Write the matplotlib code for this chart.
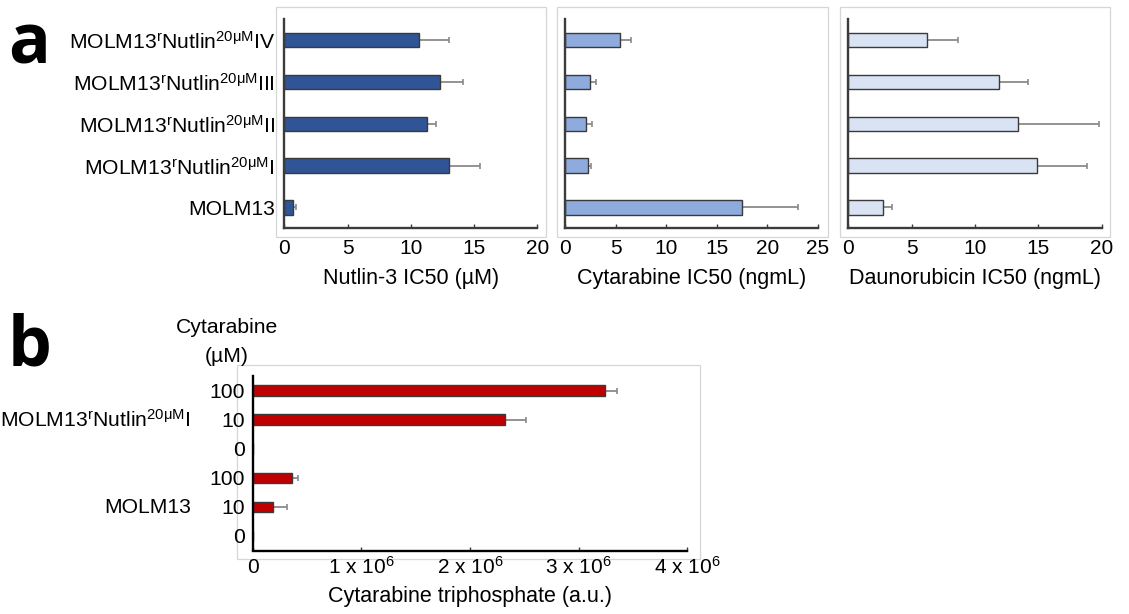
import matplotlib
matplotlib.use("Agg")
import matplotlib.pyplot as plt
from matplotlib.patches import Rectangle
from matplotlib.transforms import blended_transform_factory
import numpy as np

plt.rcParams['font.family'] = ['Liberation Sans', 'DejaVu Sans']
plt.rcParams['mathtext.fontset'] = 'custom'
plt.rcParams['mathtext.rm'] = 'Liberation Sans'
plt.rcParams['mathtext.it'] = 'Liberation Sans:italic'
plt.rcParams['mathtext.bf'] = 'Liberation Sans:bold'

# ---------------- data ----------------
# cell lines, listed bottom to top
cell_lines = [
    'MOLM13',
    r'MOLM13$^{\mathrm{r}}$Nutlin$^{\mathrm{20μM}}$I',
    r'MOLM13$^{\mathrm{r}}$Nutlin$^{\mathrm{20μM}}$II',
    r'MOLM13$^{\mathrm{r}}$Nutlin$^{\mathrm{20μM}}$III',
    r'MOLM13$^{\mathrm{r}}$Nutlin$^{\mathrm{20μM}}$IV',
]
nutlin_ic50 = [0.71, 12.99, 11.30, 12.31, 10.67]
nutlin_sd = [0.19, 2.48, 0.69, 1.84, 2.32]
cytarabine_ic50 = [17.52, 2.21, 2.08, 2.48, 5.45]
cytarabine_sd = [5.48, 0.36, 0.56, 0.59, 1.02]
daunorubicin_ic50 = [2.74, 14.87, 13.42, 11.92, 6.21]
daunorubicin_sd = [0.73, 3.97, 6.40, 2.29, 2.42]

# cytarabine triphosphate, rows bottom to top
ctp_conc = ['0', '10', '100', '0', '10', '100']
ctp_groups = ['MOLM13', r'MOLM13$^{\mathrm{r}}$Nutlin$^{\mathrm{20μM}}$I']
ctp_values = [0.0, 0.192e6, 0.362e6, 0.0, 2.32e6, 3.245e6]
ctp_sd = [0.0, 0.124e6, 0.061e6, 0.0, 0.20e6, 0.105e6]
ctp_ticks = [0, 1e6, 2e6, 3e6, 4e6]
ctp_ticklabels = ['0', r'1 x 10$^{6}$', r'2 x 10$^{6}$', r'3 x 10$^{6}$', r'4 x 10$^{6}$']

# ---------------- figure ----------------
W, H = 1129, 614
fig = plt.figure(figsize=(W / 100, H / 100), dpi=100)
fig.patch.set_facecolor('white')

FS = 15.2


def fx(x):
    return x / W


def fy(y):
    return 1 - y / H


def axes_px(l, t, r, b):
    return fig.add_axes([fx(l), fy(b), (r - l) / W, (b - t) / H])


def frame_px(l, t, r, b):
    fig.add_artist(Rectangle((fx(l), fy(b)), (r - l) / W, (b - t) / H,
                             transform=fig.transFigure, fill=False,
                             ec='#d6d6d6', lw=0.9, zorder=0))


AXIS_COLOR = '#3c3c3c'
EDGE = '#3a3a3a'
ERR = '#8a8a8a'


def style(ax, ypad):
    for s in ('top', 'right'):
        ax.spines[s].set_visible(False)
    for s in ('left', 'bottom'):
        ax.spines[s].set_color(AXIS_COLOR)
        ax.spines[s].set_linewidth(1.7)
    ax.tick_params(axis='x', direction='in', length=3, width=1,
                   color=AXIS_COLOR, labelsize=15, pad=7.5)
    ax.tick_params(axis='y', length=0, labelsize=FS, pad=ypad)
    ax.set_facecolor('none')


def hbars(ax, vals, sds, color, height):
    y = np.arange(len(vals))
    ax.barh(y, vals, height=height, color=color, edgecolor=EDGE,
            linewidth=1.0, zorder=2)
    vals = np.asarray(vals)
    sds = np.asarray(sds)
    m = sds > 0
    ax.errorbar(vals[m], y[m], xerr=[np.zeros(m.sum()), sds[m]], fmt='none',
                ecolor=ERR, elinewidth=1.3, capsize=2.2, capthick=1.2,
                zorder=1)


# ---------------- panel a ----------------
panels = [
    (284.3, 537.3, nutlin_ic50, nutlin_sd, '#2F5597', 20,
     'Nutlin-3 IC50 (µM)', (276, 546)),
    (565.3, 817.8, cytarabine_ic50, cytarabine_sd, '#8FAADC', 25,
     'Cytarabine IC50 (ngmL)', (556.7, 827.7)),
    (848.3, 1101.7, daunorubicin_ic50, daunorubicin_sd, '#DAE3F3', 20,
     'Daunorubicin IC50 (ngmL)', (840, 1110)),
]
for i, (l, r, vals, sds, col, xmax, xlabel, fr) in enumerate(panels):
    frame_px(fr[0], 7.3, fr[1], 237)
    ax = axes_px(l, 19.3, r, 228.3)
    hbars(ax, vals, sds, col, 0.345)
    ax.set_xlim(0, xmax)
    ax.set_ylim(-0.5, 4.5)
    ax.set_xticks(np.arange(0, xmax + 1, 5))
    ax.set_yticks(np.arange(len(cell_lines)))
    if i == 0:
        ax.set_yticklabels(cell_lines)
    else:
        ax.set_yticklabels([])
    style(ax, 6.7)
    fig.text(fx((l + r) / 2), fy(278.5), xlabel, ha='center', va='center',
             fontsize=15.5)

fig.text(fx(8.5), fy(63), 'a', fontsize=50, fontweight='bold',
         family=['Open Sans', 'DejaVu Sans'], ha='left', va='baseline')

# ---------------- panel b ----------------
frame_px(237.3, 365.3, 700, 558.5)
axb = axes_px(252.5, 376, 687.3, 550.5)
hbars(axb, ctp_values, ctp_sd, '#C00000', 0.36)
axb.set_xlim(0, 4e6)
axb.set_ylim(-0.5, 5.5)
axb.set_xticks(ctp_ticks)
axb.set_xticklabels([])
axb.set_yticks(np.arange(len(ctp_conc)))
axb.set_yticklabels(ctp_conc)
style(axb, 5.3)
axb.spines['left'].set_color('black')
axb.spines['bottom'].set_color('black')

# x tick labels share one baseline, with or without the exponent
trans = blended_transform_factory(axb.transData, axb.transAxes)
base_y = (550.5 - 573.3) / (550.5 - 376)
for v, lab in zip(ctp_ticks, ctp_ticklabels):
    axb.text(v, base_y, lab, transform=trans, ha='center', va='baseline',
             fontsize=15, clip_on=False)

fig.text(fx(470), fy(596.7), 'Cytarabine triphosphate (a.u.)', ha='center',
         va='center', fontsize=15.5)
fig.text(fx(226.7), fy(327.3), 'Cytarabine', ha='center', va='center',
         fontsize=FS)
fig.text(fx(226.7), fy(356), '(µM)', ha='center', va='center', fontsize=FS)
fig.text(fx(190.7), fy(426.7), ctp_groups[1], ha='right', va='baseline',
         fontsize=FS)
fig.text(fx(190.7), fy(513.3), ctp_groups[0], ha='right', va='baseline',
         fontsize=FS)

fig.text(fx(7.5), fy(365), 'b', fontsize=50, fontweight='bold',
         family=['Open Sans', 'DejaVu Sans'], ha='left', va='baseline')

fig.savefig('out.png', dpi=100, facecolor='white')
